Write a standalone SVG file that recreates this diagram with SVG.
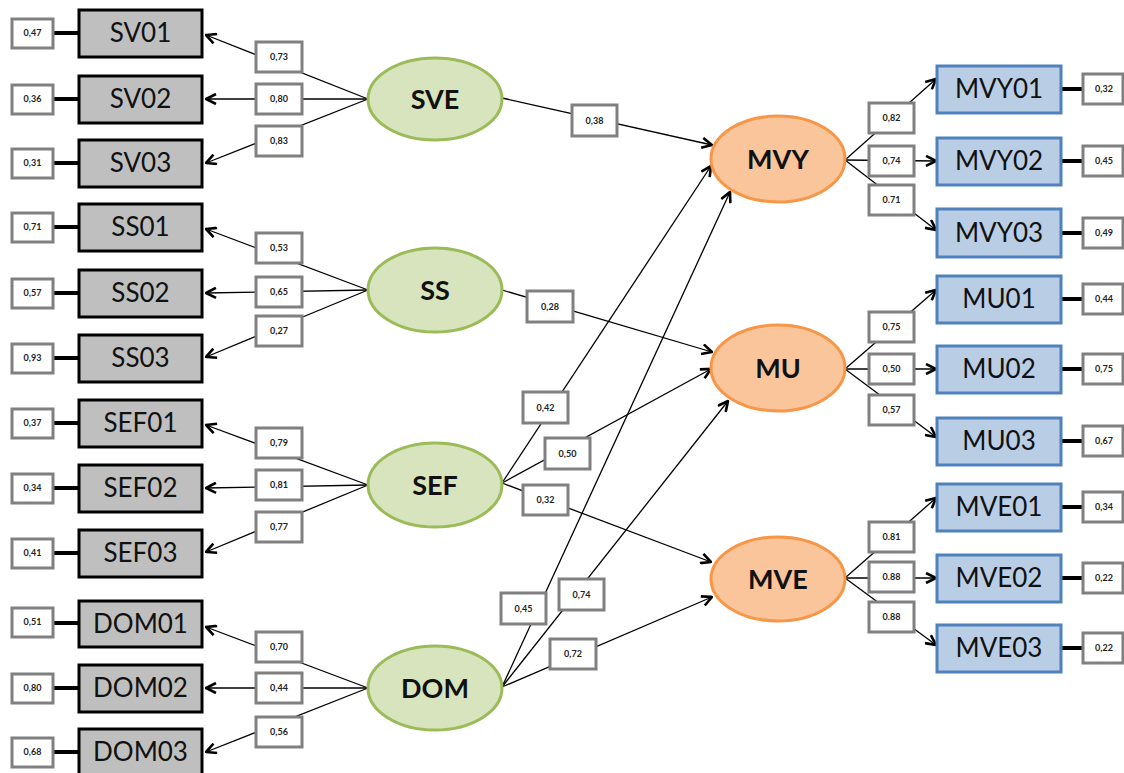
<svg xmlns="http://www.w3.org/2000/svg" width="1124" height="773" viewBox="0 0 1124 773">
<style>
.bg{fill:#fff}
.ind rect{fill:#bfbfbf;stroke:#000;stroke-width:3}
.mes rect{fill:#b9cde5;stroke:#4f81bd;stroke-width:3}
.ind text,.mes text{font-family:Lato,"Liberation Sans",sans-serif;font-size:26px;fill:#111;text-anchor:middle}
.lat ellipse{fill:#d7e4bd;stroke:#9bbb59;stroke-width:3}
.end ellipse{fill:#fac59b;stroke:#f79646;stroke-width:3}
.lat text,.end text{font-family:Lato,"Liberation Sans",sans-serif;font-weight:bold;font-size:27px;fill:#111;text-anchor:middle}
.box rect{fill:#fff;stroke:#808080;stroke-width:3}
.box text{font-family:Lato,"Liberation Sans",sans-serif;font-weight:bold;font-size:9px;fill:#222;text-anchor:middle}
.err line{stroke:#000;stroke-width:4}
.conn line{stroke:#000;stroke-width:1.3;fill:none}
.arr line{marker-end:url(#ah)}
</style>
<defs>
<marker id="ah" viewBox="0 0 12 12" refX="11" refY="6" markerWidth="12" markerHeight="12" markerUnits="userSpaceOnUse" orient="auto">
<path d="M1,1 L11,6 L1,11" fill="none" stroke="#000" stroke-width="2.6"/>
</marker>
</defs>
<rect class="bg" x="0" y="0" width="1124" height="773"/>

<g id="connectors" class="conn arr">
<!-- SVE loadings -->
<line x1="368" y1="99" x2="206" y2="35"/>
<line x1="368" y1="99" x2="206" y2="99"/>
<line x1="368" y1="99" x2="206" y2="163"/>
<!-- SS loadings -->
<line x1="368" y1="290" x2="206" y2="229"/>
<line x1="368" y1="290" x2="206" y2="293"/>
<line x1="368" y1="290" x2="206" y2="357"/>
<!-- SEF loadings -->
<line x1="368" y1="485" x2="206" y2="425"/>
<line x1="368" y1="485" x2="206" y2="488"/>
<line x1="368" y1="485" x2="206" y2="552"/>
<!-- DOM loadings -->
<line x1="368" y1="688" x2="206" y2="627"/>
<line x1="368" y1="688" x2="206" y2="688"/>
<line x1="368" y1="688" x2="206" y2="752"/>
<!-- structural paths -->
<line x1="502" y1="98" x2="712" y2="145"/>
<line x1="502" y1="290" x2="712" y2="352"/>
<line x1="502" y1="483" x2="711" y2="166"/>
<line x1="502" y1="483" x2="711" y2="369"/>
<line x1="502" y1="483" x2="711" y2="562"/>
<line x1="502" y1="687" x2="730" y2="192"/>
<line x1="502" y1="687" x2="728" y2="401"/>
<line x1="502" y1="687" x2="712" y2="597"/>
<!-- MVY loadings -->
<line x1="845" y1="160" x2="936" y2="79"/>
<line x1="845" y1="160" x2="936" y2="161"/>
<line x1="845" y1="160" x2="936" y2="230"/>
<!-- MU loadings -->
<line x1="845" y1="369" x2="936" y2="290"/>
<line x1="845" y1="369" x2="936" y2="369"/>
<line x1="845" y1="369" x2="936" y2="437"/>
<!-- MVE loadings -->
<line x1="845" y1="578" x2="936" y2="498"/>
<line x1="845" y1="578" x2="936" y2="578"/>
<line x1="845" y1="578" x2="936" y2="645"/>
</g>

<g id="error-links" class="err">
<line x1="53" y1="33" x2="79" y2="33"/>
<line x1="53" y1="99" x2="79" y2="99"/>
<line x1="53" y1="163" x2="79" y2="163"/>
<line x1="53" y1="227" x2="79" y2="227"/>
<line x1="53" y1="293" x2="79" y2="293"/>
<line x1="53" y1="358" x2="79" y2="358"/>
<line x1="53" y1="423" x2="79" y2="423"/>
<line x1="53" y1="488" x2="79" y2="488"/>
<line x1="53" y1="553" x2="79" y2="553"/>
<line x1="53" y1="623" x2="79" y2="623"/>
<line x1="53" y1="688" x2="79" y2="688"/>
<line x1="53" y1="752" x2="79" y2="752"/>
<line x1="1061" y1="89" x2="1083" y2="89"/>
<line x1="1061" y1="161" x2="1083" y2="161"/>
<line x1="1061" y1="233" x2="1083" y2="233"/>
<line x1="1061" y1="299" x2="1083" y2="299"/>
<line x1="1061" y1="369" x2="1083" y2="369"/>
<line x1="1061" y1="441" x2="1083" y2="441"/>
<line x1="1061" y1="507" x2="1083" y2="507"/>
<line x1="1061" y1="578" x2="1083" y2="578"/>
<line x1="1061" y1="648" x2="1083" y2="648"/>
</g>

<g id="path-labels" class="box">
<!-- left loadings -->
<rect x="256" y="42" width="46" height="30"/><text x="279" y="60">0,73</text>
<rect x="256" y="84" width="46" height="30"/><text x="279" y="102">0,80</text>
<rect x="256" y="126" width="46" height="30"/><text x="279" y="144">0,83</text>
<rect x="256" y="233" width="46" height="30"/><text x="279" y="251">0,53</text>
<rect x="256" y="277" width="46" height="30"/><text x="279" y="295">0,65</text>
<rect x="256" y="316" width="46" height="30"/><text x="279" y="334">0,27</text>
<rect x="256" y="428" width="46" height="30"/><text x="279" y="446">0,79</text>
<rect x="256" y="470" width="46" height="30"/><text x="279" y="488">0,81</text>
<rect x="256" y="512" width="46" height="30"/><text x="279" y="530">0,77</text>
<rect x="256" y="632" width="46" height="30"/><text x="279" y="650">0,70</text>
<rect x="256" y="673" width="46" height="30"/><text x="279" y="691">0,44</text>
<rect x="256" y="717" width="46" height="30"/><text x="279" y="735">0,56</text>
<!-- structural -->
<rect x="572" y="105" width="45" height="31"/><text x="594.5" y="123.5">0,38</text>
<rect x="527" y="291" width="46" height="31"/><text x="550" y="309.5">0,28</text>
<rect x="523" y="392" width="45" height="31"/><text x="545.5" y="410.5">0,42</text>
<rect x="545" y="438" width="45" height="31"/><text x="567.5" y="456.5">0,50</text>
<rect x="523" y="485" width="45" height="30"/><text x="545.5" y="503">0,32</text>
<rect x="501" y="593" width="45" height="31"/><text x="523.5" y="611.5">0,45</text>
<rect x="559" y="579" width="45" height="31"/><text x="581.5" y="597.5">0,74</text>
<rect x="550" y="639" width="46" height="30"/><text x="573" y="657">0,72</text>
<!-- right loadings -->
<rect x="869" y="103" width="45" height="30"/><text x="891.5" y="121">0,82</text>
<rect x="869" y="146" width="45" height="30"/><text x="891.5" y="164">0,74</text>
<rect x="869" y="185" width="45" height="30"/><text x="891.5" y="203">0.71</text>
<rect x="869" y="312" width="45" height="30"/><text x="891.5" y="330">0,75</text>
<rect x="869" y="354" width="45" height="30"/><text x="891.5" y="372">0,50</text>
<rect x="869" y="395" width="45" height="30"/><text x="891.5" y="413">0,57</text>
<rect x="869" y="522" width="45" height="30"/><text x="891.5" y="540">0.81</text>
<rect x="869" y="562" width="45" height="30"/><text x="891.5" y="580">0.88</text>
<rect x="869" y="602" width="45" height="30"/><text x="891.5" y="620">0.88</text>
</g>

<g id="errors" class="box">
<rect x="12" y="19" width="41" height="29"/><text x="32.5" y="36">0,47</text>
<rect x="12" y="85" width="41" height="29"/><text x="32.5" y="102">0,36</text>
<rect x="12" y="149" width="41" height="29"/><text x="32.5" y="166">0,31</text>
<rect x="12" y="213" width="41" height="29"/><text x="32.5" y="230">0,71</text>
<rect x="12" y="279" width="41" height="29"/><text x="32.5" y="296">0,57</text>
<rect x="12" y="344" width="41" height="29"/><text x="32.5" y="361">0,93</text>
<rect x="12" y="409" width="41" height="29"/><text x="32.5" y="426">0,37</text>
<rect x="12" y="474" width="41" height="29"/><text x="32.5" y="491">0,34</text>
<rect x="12" y="539" width="41" height="29"/><text x="32.5" y="556">0,41</text>
<rect x="12" y="608" width="41" height="29"/><text x="32.5" y="625">0,51</text>
<rect x="12" y="674" width="41" height="29"/><text x="32.5" y="691">0,80</text>
<rect x="12" y="738" width="41" height="29"/><text x="32.5" y="755">0,68</text>
<rect x="1083" y="74" width="40" height="30"/><text x="1104" y="92">0,32</text>
<rect x="1083" y="146" width="40" height="30"/><text x="1104" y="164">0,45</text>
<rect x="1083" y="218" width="40" height="30"/><text x="1104" y="236">0,49</text>
<rect x="1083" y="284" width="40" height="30"/><text x="1104" y="302">0,44</text>
<rect x="1083" y="354" width="40" height="30"/><text x="1104" y="372">0,75</text>
<rect x="1083" y="426" width="40" height="30"/><text x="1104" y="444">0,67</text>
<rect x="1083" y="492" width="40" height="30"/><text x="1104" y="510">0,34</text>
<rect x="1083" y="563" width="40" height="30"/><text x="1104" y="581">0,22</text>
<rect x="1083" y="633" width="40" height="30"/><text x="1104" y="651">0,22</text>
</g>

<g id="SV01" class="ind"><rect x="79" y="10" width="123" height="47"/><text x="140.5" y="42">SV01</text></g>
<g id="SV02" class="ind"><rect x="79" y="76" width="123" height="47"/><text x="140.5" y="108">SV02</text></g>
<g id="SV03" class="ind"><rect x="79" y="140" width="123" height="47"/><text x="140.5" y="172">SV03</text></g>
<g id="SS01" class="ind"><rect x="79" y="204" width="123" height="47"/><text x="140.5" y="236">SS01</text></g>
<g id="SS02" class="ind"><rect x="79" y="270" width="123" height="47"/><text x="140.5" y="302">SS02</text></g>
<g id="SS03" class="ind"><rect x="79" y="335" width="123" height="47"/><text x="140.5" y="367">SS03</text></g>
<g id="SEF01" class="ind"><rect x="79" y="400" width="123" height="47"/><text x="140.5" y="432">SEF01</text></g>
<g id="SEF02" class="ind"><rect x="79" y="465" width="123" height="47"/><text x="140.5" y="497">SEF02</text></g>
<g id="SEF03" class="ind"><rect x="79" y="530" width="123" height="47"/><text x="140.5" y="562">SEF03</text></g>
<g id="DOM01" class="ind"><rect x="79" y="601" width="123" height="46"/><text x="140.5" y="633">DOM01</text></g>
<g id="DOM02" class="ind"><rect x="79" y="665" width="123" height="47"/><text x="140.5" y="697">DOM02</text></g>
<g id="DOM03" class="ind"><rect x="79" y="729" width="123" height="47"/><text x="140.5" y="761">DOM03</text></g>

<g id="SVE" class="lat"><ellipse cx="435" cy="99" rx="67" ry="41"/><text x="435" y="109">SVE</text></g>
<g id="SS" class="lat"><ellipse cx="435" cy="290" rx="67" ry="42"/><text x="435" y="300">SS</text></g>
<g id="SEF" class="lat"><ellipse cx="435" cy="485" rx="67" ry="42"/><text x="435" y="495">SEF</text></g>
<g id="DOM" class="lat"><ellipse cx="435" cy="688" rx="67" ry="42"/><text x="435" y="698">DOM</text></g>

<g id="MVY" class="end"><ellipse cx="778" cy="159" rx="67" ry="43"/><text x="778" y="169">MVY</text></g>
<g id="MU" class="end"><ellipse cx="778" cy="368" rx="67" ry="43"/><text x="778" y="378">MU</text></g>
<g id="MVE" class="end"><ellipse cx="778" cy="579" rx="67" ry="42"/><text x="778" y="589">MVE</text></g>

<g id="MVY01" class="mes"><rect x="937" y="66" width="124" height="47"/><text x="999" y="98">MVY01</text></g>
<g id="MVY02" class="mes"><rect x="937" y="138" width="124" height="47"/><text x="999" y="170">MVY02</text></g>
<g id="MVY03" class="mes"><rect x="937" y="209" width="124" height="48"/><text x="999" y="242">MVY03</text></g>
<g id="MU01" class="mes"><rect x="937" y="276" width="124" height="47"/><text x="999" y="308">MU01</text></g>
<g id="MU02" class="mes"><rect x="937" y="346" width="124" height="47"/><text x="999" y="378">MU02</text></g>
<g id="MU03" class="mes"><rect x="937" y="418" width="124" height="47"/><text x="999" y="450">MU03</text></g>
<g id="MVE01" class="mes"><rect x="937" y="484" width="124" height="47"/><text x="999" y="516">MVE01</text></g>
<g id="MVE02" class="mes"><rect x="937" y="555" width="124" height="47"/><text x="999" y="587">MVE02</text></g>
<g id="MVE03" class="mes"><rect x="937" y="625" width="124" height="47"/><text x="999" y="657">MVE03</text></g>
</svg>
